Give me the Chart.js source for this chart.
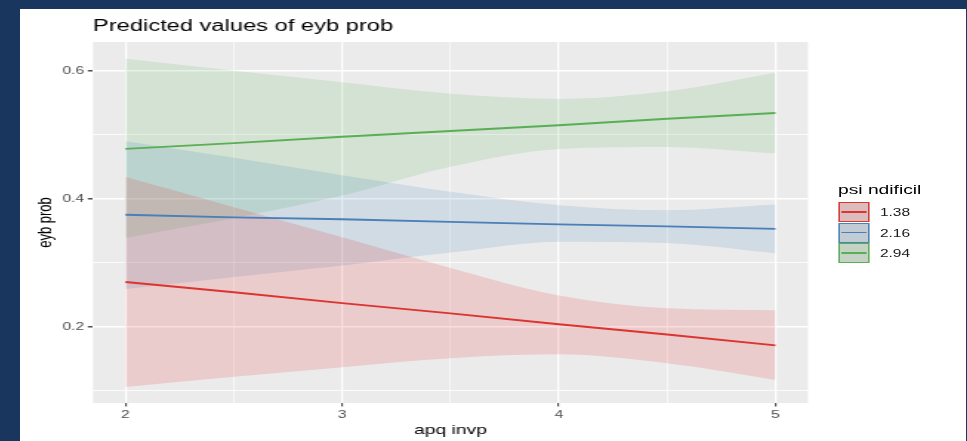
<!DOCTYPE html>
<html>
<head>
<meta charset="utf-8">
<title>Predicted values of eyb prob</title>
<script src="https://cdn.jsdelivr.net/npm/chart.js@4.4.1/dist/chart.umd.min.js"></script>
<style>
  html, body { margin: 0; padding: 0; }
  body {
    width: 967px; height: 441px; overflow: hidden; position: relative;
    background: #18365e;
    font-family: "Liberation Sans", Arial, Helvetica, sans-serif;
  }
  #panel { position: absolute; left: 20px; top: 9px; width: 946px; height: 432px; background: #fff; overflow: hidden; }
  /* the source picture is a ggplot image stretched sideways, so draw narrow and stretch */
  #stretch { position: absolute; left: 0; top: 0; width: 639px; height: 432px; transform: scaleX(1.48); transform-origin: 0 0; }
  #chart { position: absolute; left: 0; top: 0; }
  .lg-title { position: absolute; left: 552.7px; top: 173px; font-size: 13px; line-height: 15px; color: #000; white-space: nowrap; }
  .lg-key { position: absolute; left: 553.4px; width: 20.3px; height: 20px; box-sizing: border-box; border-style: solid; border-width: 1.6px 1.2px; }
  .lg-key span { position: absolute; left: 1px; right: 1px; top: 50%; height: 1.6px; margin-top: -0.8px; }
  .lg-label { position: absolute; left: 581px; font-size: 10.5px; line-height: 12px; color: #1a1a1a; white-space: nowrap; }
</style>
</head>
<body>
<div id="panel">
  <div id="stretch">
    <canvas id="chart" width="639" height="432"></canvas>
    <div id="legend"></div>
  </div>
</div>
<script>
// apq invp values where the curves were read
const xValues = [2, 2.5, 3, 3.5, 4, 4.5, 5];

// psi ndificil groups
const groups = ['1.38', '2.16', '2.94'];
const colors = ['#dc3430', '#4a7fb8', '#5aae55'];
const fills = ['rgba(228,26,28,0.15)', 'rgba(55,126,184,0.15)', 'rgba(77,175,74,0.15)'];

const pred138 = [0.270, 0.254, 0.237, 0.221, 0.204, 0.188, 0.171];
const high138 = [0.434, 0.387, 0.340, 0.292, 0.249, 0.229, 0.226];
const low138  = [0.106, 0.122, 0.137, 0.151, 0.157, 0.143, 0.117];

const pred216 = [0.375, 0.371, 0.368, 0.364, 0.360, 0.357, 0.353];
const high216 = [0.490, 0.464, 0.437, 0.411, 0.390, 0.382, 0.391];
const low216  = [0.259, 0.278, 0.296, 0.316, 0.333, 0.331, 0.315];

const pred294 = [0.478, 0.487, 0.497, 0.506, 0.515, 0.525, 0.534];
const high294 = [0.619, 0.600, 0.582, 0.564, 0.556, 0.568, 0.597];
const low294  = [0.339, 0.370, 0.405, 0.450, 0.478, 0.481, 0.471];

const preds = [pred138, pred216, pred294];
const highs = [high138, high216, high294];
const lows = [low138, low216, low294];

// axes
const xTicks = [2, 3, 4, 5];
const xMinor = [2.5, 3.5, 4.5];
const yTicks = [0.2, 0.4, 0.6];
const yTickLabels = ['0.2', '0.4', '0.6'];
const yMinor = [0.1, 0.3, 0.5];

const pts = (ys) => xValues.map((x, i) => ({ x: x, y: ys[i] }));

var datasets = [];
groups.forEach((g, i) => {
    datasets.push({
        label: g + ' high', data: pts(highs[i]), borderWidth: 0, pointRadius: 0,
        backgroundColor: fills[i], fill: '+1', cubicInterpolationMode: 'monotone', order: 1
    });
    datasets.push({
        label: g + ' low', data: pts(lows[i]), borderWidth: 0, pointRadius: 0,
        backgroundColor: fills[i], fill: false, cubicInterpolationMode: 'monotone', order: 1
    });
});
groups.forEach((g, i) => {
    datasets.push({
        label: g, data: pts(preds[i]), borderColor: colors[i], borderWidth: 1.9,
        pointRadius: 0, fill: false, tension: 0, order: 0
    });
});

const panelBg = {
    id: 'panelBg',
    beforeDraw(chart) {
        const { ctx, chartArea: a } = chart;
        ctx.save();
        ctx.fillStyle = '#ebebeb';
        ctx.fillRect(a.left, a.top, a.right - a.left, a.bottom - a.top);
        ctx.restore();
    }
};

const isMajor = (list, v) => list.some(t => Math.abs(t - v) < 1e-9);
const font = "'Liberation Sans', Arial, Helvetica, sans-serif";

new Chart(document.getElementById('chart'), {
    type: 'line',
    data: { datasets: datasets },
    plugins: [panelBg],
    options: {
        responsive: false,
        devicePixelRatio: 1,
        animation: false,
        layout: { padding: { left: 0, right: 106.6, top: 0, bottom: 0 } },
        plugins: {
            legend: { display: false },
            tooltip: { enabled: false },
            title: {
                display: true, text: 'Predicted values of eyb prob', align: 'start', fullSize: false,
                color: '#000', font: { family: font, size: 16, weight: 'normal' },
                padding: { top: 8.4, bottom: 5.4 }
            }
        },
        scales: {
            x: {
                type: 'linear', min: 1.85, max: 5.15,
                afterBuildTicks: (s) => { s.ticks = xTicks.concat(xMinor).sort((a, b) => a - b).map(v => ({ value: v })); },
                afterFit: (s) => { s.height = 38; },
                ticks: {
                    autoSkip: false, maxRotation: 0, padding: 2.5, color: '#4d4d4d',
                    font: { family: font, size: 10.5 },
                    callback: (v) => isMajor(xTicks, v) ? String(v) : ''
                },
                grid: {
                    color: '#ffffff', tickLength: 3.5,
                    lineWidth: (c) => isMajor(xTicks, c.tick.value) ? 1.3 : 0.6,
                    tickColor: (c) => isMajor(xTicks, c.tick.value) ? '#333333' : 'rgba(0,0,0,0)',
                    tickWidth: 1
                },
                border: { display: false },
                title: {
                    display: true, text: 'apq invp', color: '#000',
                    font: { family: font, size: 13 }, padding: { top: 0, bottom: 3.2 }
                }
            },
            y: {
                type: 'linear', min: 0.081, max: 0.645,
                afterBuildTicks: (s) => { s.ticks = yTicks.concat(yMinor).sort((a, b) => a - b).map(v => ({ value: v })); },
                afterFit: (s) => { s.width = 49.3; },
                ticks: {
                    autoSkip: false, padding: 2.5, color: '#4d4d4d',
                    font: { family: font, size: 10.5 },
                    callback: (v) => {
                        const k = yTicks.findIndex(t => Math.abs(t - v) < 1e-9);
                        return k >= 0 ? yTickLabels[k] : '';
                    }
                },
                grid: {
                    color: '#ffffff', tickLength: 3.5,
                    lineWidth: (c) => isMajor(yTicks, c.tick.value) ? 1.6 : 0.8,
                    tickColor: (c) => isMajor(yTicks, c.tick.value) ? '#333333' : 'rgba(0,0,0,0)',
                    tickWidth: 1.3
                },
                border: { display: false },
                title: {
                    display: true, text: 'eyb prob', color: '#000',
                    font: { family: font, size: 13 }, padding: { top: 9.8, bottom: 0 }
                }
            }
        }
    }
});

// legend, same layout as the ggplot guide
const legend = document.getElementById('legend');
const title = document.createElement('div');
title.className = 'lg-title';
title.textContent = 'psi ndificil';
legend.appendChild(title);

const keyTops = [193, 213.5, 234];
groups.forEach((g, i) => {
    const key = document.createElement('div');
    key.className = 'lg-key';
    key.style.top = keyTops[i] + 'px';
    key.style.borderColor = colors[i];
    key.style.background = 'linear-gradient(' + fills[i] + ',' + fills[i] + '), #d9d9d9';
    const line = document.createElement('span');
    line.style.background = colors[i];
    key.appendChild(line);
    legend.appendChild(key);

    const lab = document.createElement('div');
    lab.className = 'lg-label';
    lab.style.top = (keyTops[i] + 4) + 'px';
    lab.textContent = g;
    legend.appendChild(lab);
});
</script>
</body>
</html>
